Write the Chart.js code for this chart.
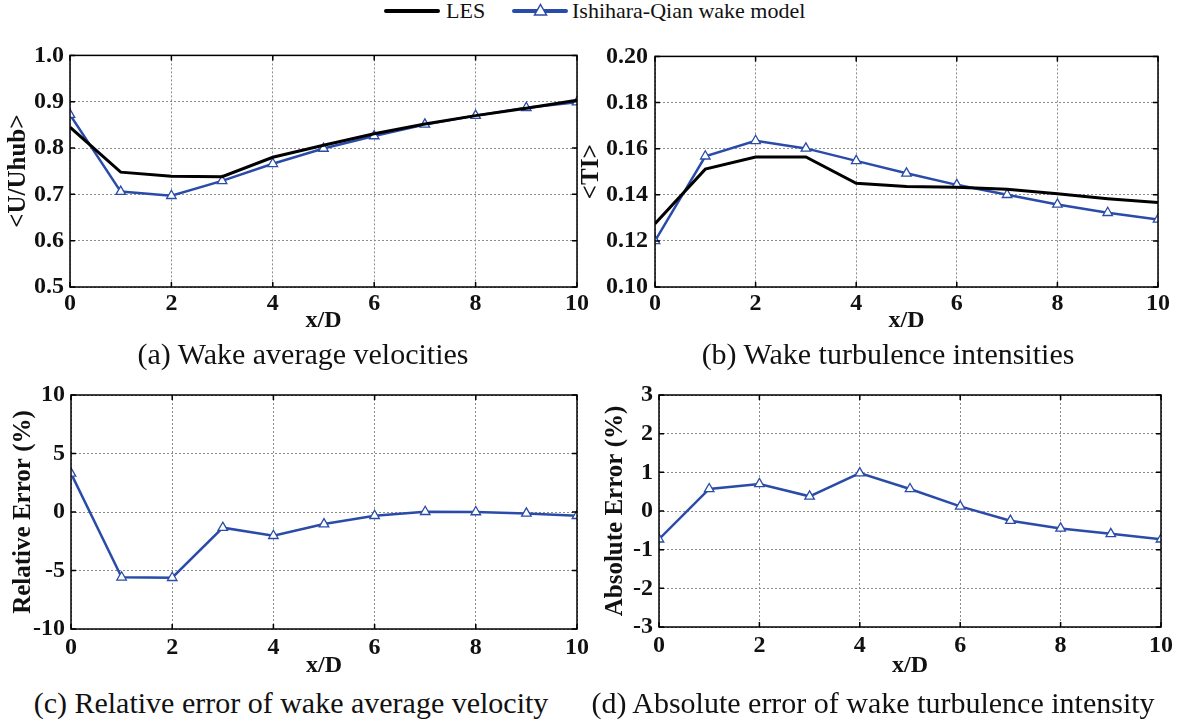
<!DOCTYPE html>
<html>
<head>
<meta charset="utf-8">
<title>Wake comparison LES vs Ishihara-Qian</title>
<script src="https://cdn.jsdelivr.net/npm/chart.js@4.4.0/dist/chart.umd.min.js"></script>
<style>
  body { margin: 0; background: #fff; width: 1184px; height: 727px; position: relative; overflow: hidden;
         font-family: "Liberation Serif", "Times New Roman", serif; color: #111; }
  .box { position: absolute; }
  .cap { position: absolute; font-size: 30px; transform: translate(-50%, -50%); white-space: nowrap; }
  .leg-line { position: absolute; height: 4px; border-radius: 2px; }
  .leg-txt { position: absolute; font-size: 22px; line-height: 22px; top: 0px; }
</style>
</head>
<body>

<!-- legend on top, shared by (a) and (b) -->
<div class="leg-line" style="left:384px; top:9px; width:56px; background:#000;"></div>
<div class="leg-txt" style="left:446px;">LES</div>
<div class="leg-line" style="left:512px; top:9px; width:56px; background:#2a4ca8; height:3.5px;"></div>
<svg style="position:absolute; left:533px; top:3px;" width="15" height="14">
  <polygon points="7.5,1.5 13.5,12 1.5,12" fill="#fff" stroke="#2a4ca8" stroke-width="1.5"/>
</svg>
<div class="leg-txt" style="left:572px;">Ishihara-Qian wake model</div>

<div class="box" style="left:0px; top:35px; width:600px; height:300px;"><canvas id="chartA"></canvas></div>
<div class="box" style="left:575px; top:35px; width:609px; height:300px;"><canvas id="chartB"></canvas></div>
<div class="box" style="left:0px; top:370px; width:600px; height:310px;"><canvas id="chartC"></canvas></div>
<div class="box" style="left:590px; top:370px; width:594px; height:310px;"><canvas id="chartD"></canvas></div>

<div class="cap" style="left:303px; top:354px;">(a) Wake average velocities</div>
<div class="cap" style="left:888px; top:354px;">(b) Wake turbulence intensities</div>
<div class="cap" style="left:291px; top:703px;">(c) Relative error of wake average velocity</div>
<div class="cap" style="left:873px; top:703px;">(d) Absolute error of wake turbulence intensity</div>

<script>
// downstream distance
var xD = [0, 1, 2, 3, 4, 5, 6, 7, 8, 9, 10];

// (a) wake average velocity <U/Uhub>
var lesVel = [0.845, 0.748, 0.739, 0.738, 0.780, 0.806, 0.831, 0.852, 0.870, 0.886, 0.903];
var iqVel  = [0.872, 0.706, 0.697, 0.729, 0.766, 0.799, 0.826, 0.851, 0.870, 0.887, 0.899];

// (b) wake turbulence intensity <TI>
var lesTI = [0.1274, 0.1511, 0.1564, 0.1564, 0.1450, 0.1436, 0.1433, 0.1424, 0.1404, 0.1383, 0.1366];
var iqTI  = [0.1200, 0.1567, 0.1634, 0.1601, 0.1547, 0.1493, 0.1443, 0.1400, 0.1358, 0.1322, 0.1293];

// (c) relative error (%) and (d) absolute error (%)
var relErr = [3.3, -5.58, -5.62, -1.34, -2.03, -1.03, -0.32, 0.02, 0.0, -0.12, -0.32];
var absErr = [-0.73, 0.57, 0.70, 0.38, 0.98, 0.57, 0.12, -0.25, -0.45, -0.59, -0.73];

var xTicks = [0, 2, 4, 6, 8, 10];

var FONT = '"Liberation Serif", "Times New Roman", serif';
var BLUE = '#2a4ca8';

function pts(ys) {
    return xD.map(function (x, i) { return {x: x, y: ys[i]}; });
}

function lesSet(ys) {
    return {
        label: 'LES',
        data: pts(ys),
        borderColor: '#000',
        borderWidth: 3,
        pointRadius: 0,
        tension: 0
    };
}

function iqSet(ys) {
    return {
        label: 'Ishihara-Qian wake model',
        data: pts(ys),
        borderColor: BLUE,
        borderWidth: 2.5,
        pointStyle: 'triangle',
        pointRadius: 5.5,
        pointBackgroundColor: '#fff',
        pointBorderColor: BLUE,
        pointBorderWidth: 1.3,
        tension: 0
    };
}

// black box round the plot with small inward ticks, like matlab
var boxPlugin = {
    id: 'box',
    afterDraw: function (chart) {
        var a = chart.chartArea, c = chart.ctx;
        var xs = chart.scales.x, ys = chart.scales.y;
        c.save();
        c.strokeStyle = '#000';
        c.lineWidth = 1.5;
        c.beginPath();
        xs.ticks.forEach(function (t) {
            var px = xs.getPixelForValue(t.value);
            c.moveTo(px, a.bottom); c.lineTo(px, a.bottom - 5);
            c.moveTo(px, a.top); c.lineTo(px, a.top + 5);
        });
        ys.ticks.forEach(function (t) {
            var py = ys.getPixelForValue(t.value);
            c.moveTo(a.left, py); c.lineTo(a.left + 5, py);
            c.moveTo(a.right, py); c.lineTo(a.right - 5, py);
        });
        c.stroke();
        c.strokeRect(a.left, a.top, a.right - a.left, a.bottom - a.top);
        c.restore();
    }
};

function makeChart(id, datasets, y, g) {
    var ctx = document.getElementById(id).getContext('2d');
    return new Chart(ctx, {
        type: 'line',
        data: { datasets: datasets },
        plugins: [boxPlugin],
        options: {
            responsive: true,
            maintainAspectRatio: false,
            animation: false,
            layout: { padding: { top: g.top, right: g.right, left: 0, bottom: 0 } },
            plugins: { legend: { display: false }, tooltip: { enabled: false } },
            scales: {
                x: {
                    type: 'linear',
                    min: 0, max: 10,
                    afterBuildTicks: function (s) { s.ticks = xTicks.map(function (v) { return {value: v}; }); },
                    afterFit: function (s) { s.height = g.xh; },
                    grid: { color: '#8c8c8c', lineWidth: 1, drawTicks: false },
                    border: { display: false, dash: [2, 2] },
                    ticks: { color: '#111', padding: g.tickPad, maxRotation: 0,
                             font: { family: FONT, size: 24, weight: 'bold' } },
                    title: { display: true, text: 'x/D', color: '#111', padding: 0,
                             font: { family: FONT, size: 24, weight: 'bold' } }
                },
                y: {
                    min: y.min, max: y.max,
                    afterBuildTicks: function (s) { s.ticks = y.ticks.map(function (v) { return {value: v}; }); },
                    afterFit: function (s) { s.width = g.ya; },
                    grid: { color: '#8c8c8c', lineWidth: 1, drawTicks: false },
                    border: { display: false, dash: [2, 2] },
                    ticks: { color: '#111', padding: g.yTickPad,
                             font: { family: FONT, size: 24, weight: 'bold' },
                             callback: function (v) { return v.toFixed(y.dec); } },
                    title: { display: true, text: y.title, color: '#111', padding: { top: g.yTitlePad, bottom: 0 },
                             font: { family: FONT, size: 25, weight: 'bold' } }
                }
            }
        }
    });
}

makeChart('chartA', [lesSet(lesVel), iqSet(iqVel)],
    { min: 0.5, max: 1.0, ticks: [0.5, 0.6, 0.7, 0.8, 0.9, 1.0], dec: 1, title: '<U/Uhub>' },
    { top: 18, right: 23, xh: 48, ya: 70, tickPad: 2, yTickPad: 6, yTitlePad: 4 });

makeChart('chartB', [lesSet(lesTI), iqSet(iqTI)],
    { min: 0.10, max: 0.20, ticks: [0.10, 0.12, 0.14, 0.16, 0.18, 0.20], dec: 2, title: '<TI>' },
    { top: 18, right: 26, xh: 48, ya: 80, tickPad: 2, yTickPad: 7, yTitlePad: 2 });

makeChart('chartC', [iqSet(relErr)],
    { min: -10, max: 10, ticks: [-10, -5, 0, 5, 10], dec: 0, title: 'Relative Error (%)' },
    { top: 25, right: 23, xh: 51, ya: 71, tickPad: 4, yTickPad: 6, yTitlePad: 9 });

makeChart('chartD', [iqSet(absErr)],
    { min: -3, max: 3, ticks: [-3, -2, -1, 0, 1, 2, 3], dec: 0, title: 'Absolute Error (%)' },
    { top: 25, right: 23, xh: 53, ya: 69, tickPad: 4, yTickPad: 6, yTitlePad: 11 });
</script>
</body>
</html>
